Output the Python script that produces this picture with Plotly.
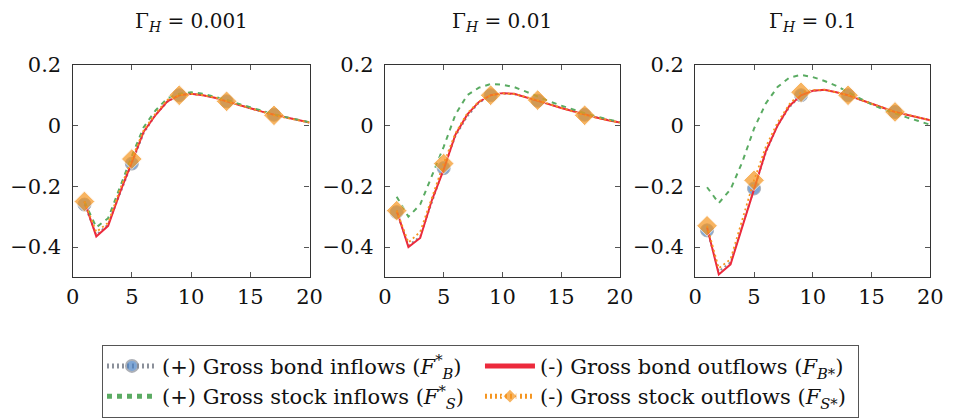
import plotly.graph_objects as go

periods = list(range(1, 21))
gammas = ["0.001", "0.01", "0.1"]

# Panel 1: Gamma_H = 0.001
bond_in_1 = [-0.26, -0.36, -0.325, -0.225, -0.125, -0.025, 0.035, 0.078, 0.10, 0.104, 0.10, 0.092, 0.08, 0.068, 0.057, 0.046, 0.036, 0.027, 0.018, 0.01]
bond_out_1 = [-0.25, -0.365, -0.33, -0.22, -0.12, -0.02, 0.035, 0.08, 0.10, 0.105, 0.10, 0.092, 0.08, 0.068, 0.057, 0.046, 0.036, 0.027, 0.018, 0.01]
stock_in_1 = [-0.25, -0.335, -0.305, -0.2, -0.1, -0.005, 0.05, 0.09, 0.105, 0.11, 0.105, 0.095, 0.085, 0.072, 0.06, 0.048, 0.037, 0.028, 0.019, 0.011]
stock_out_1 = [-0.25, -0.35, -0.32, -0.21, -0.11, -0.015, 0.04, 0.085, 0.10, 0.105, 0.10, 0.093, 0.08, 0.068, 0.057, 0.046, 0.034, 0.026, 0.018, 0.01]

# Panel 2: Gamma_H = 0.01
bond_in_2 = [-0.285, -0.395, -0.365, -0.25, -0.14, -0.035, 0.03, 0.075, 0.10, 0.106, 0.104, 0.094, 0.082, 0.07, 0.058, 0.047, 0.036, 0.027, 0.018, 0.01]
bond_out_2 = [-0.28, -0.40, -0.37, -0.245, -0.145, -0.03, 0.036, 0.078, 0.10, 0.107, 0.105, 0.094, 0.082, 0.07, 0.058, 0.047, 0.036, 0.027, 0.018, 0.01]
stock_in_2 = [-0.234, -0.30, -0.26, -0.165, -0.07, 0.036, 0.10, 0.125, 0.137, 0.135, 0.127, 0.112, 0.095, 0.08, 0.066, 0.053, 0.041, 0.03, 0.02, 0.011]
stock_out_2 = [-0.28, -0.385, -0.35, -0.235, -0.125, -0.025, 0.04, 0.08, 0.10, 0.106, 0.104, 0.094, 0.084, 0.071, 0.058, 0.047, 0.034, 0.026, 0.018, 0.01]

# Panel 3: Gamma_H = 0.1
bond_in_3 = [-0.345, -0.48, -0.45, -0.33, -0.207, -0.09, 0.0, 0.06, 0.10, 0.115, 0.117, 0.11, 0.10, 0.086, 0.072, 0.058, 0.045, 0.036, 0.027, 0.018]
bond_out_3 = [-0.335, -0.49, -0.457, -0.33, -0.21, -0.085, 0.0, 0.065, 0.10, 0.115, 0.118, 0.11, 0.10, 0.086, 0.072, 0.058, 0.045, 0.036, 0.027, 0.018]
stock_in_3 = [-0.203, -0.255, -0.21, -0.12, -0.01, 0.073, 0.127, 0.158, 0.167, 0.16, 0.147, 0.131, 0.11, 0.09, 0.07, 0.054, 0.04, 0.027, 0.015, 0.003]
stock_out_3 = [-0.33, -0.47, -0.44, -0.31, -0.18, -0.07, 0.01, 0.07, 0.11, 0.118, 0.118, 0.11, 0.10, 0.086, 0.072, 0.058, 0.045, 0.036, 0.027, 0.018]

panels = [
    (bond_in_1, bond_out_1, stock_in_1, stock_out_1),
    (bond_in_2, bond_out_2, stock_in_2, stock_out_2),
    (bond_in_3, bond_out_3, stock_in_3, stock_out_3),
]

series_names = [
    "(+) Gross bond inflows (<i>F</i><sup>*</sup><sub><i>B</i></sub>)",
    "(-) Gross bond outflows (<i>F</i><sub><i>B</i>*</sub>)",
    "(+) Gross stock inflows (<i>F</i><sup>*</sup><sub><i>S</i></sub>)",
    "(-) Gross stock outflows (<i>F</i><sub><i>S</i>*</sub>)",
]

xticks = [0, 5, 10, 15, 20]
yticks = [-0.4, -0.2, 0, 0.2]
yticktext = ["\u22120.4", "\u22120.2", "0", "0.2"]

W, H = 956, 418
FONT = "DejaVu Serif"
x_domains = [(67, 309), (386, 626), (703, 943)]
y_top, y_bot = 55, 276

marker_every = [1 if (i % 4 == 0) else 0 for i in range(len(periods))]

fig = go.Figure()
for p, (b_in, b_out, s_in, s_out) in enumerate(panels):
    xa = "x" if p == 0 else f"x{p+1}"
    ya = "y" if p == 0 else f"y{p+1}"
    show = p == 0
    fig.add_trace(go.Scatter(
        x=periods, y=b_in, name=series_names[0], mode="lines+markers",
        line=dict(color="#8a8f99", width=1.8, dash="2px,3px"),
        marker=dict(symbol="circle", size=[s * 13 for s in marker_every], color="#4a82c6"),
        xaxis=xa, yaxis=ya, showlegend=show, legendgroup="bi"))
    fig.add_trace(go.Scatter(
        x=periods, y=b_out, name=series_names[1], mode="lines",
        line=dict(color="#ec2a3c", width=2),
        xaxis=xa, yaxis=ya, showlegend=show, legendgroup="bo"))
    fig.add_trace(go.Scatter(
        x=periods, y=s_in, name=series_names[2], mode="lines",
        line=dict(color="#5aab62", width=2, dash="5px,5px"),
        xaxis=xa, yaxis=ya, showlegend=show, legendgroup="si"))
    fig.add_trace(go.Scatter(
        x=periods, y=s_out, name=series_names[3], mode="lines+markers",
        line=dict(color="#f5951f", width=1.8, dash="2px,3px"),
        marker=dict(symbol="diamond", size=[s * 16 for s in marker_every], color="#f5951f"),
        xaxis=xa, yaxis=ya, showlegend=show, legendgroup="so"))

axis_common = dict(
    showgrid=False, zeroline=False, showline=True, linecolor="#333333", linewidth=1.3,
    mirror="ticks", ticks="inside", ticklen=5, tickcolor="#555555", tickwidth=1,
    tickfont=dict(family=FONT, size=21, color="#111111"),
)

layout = dict(
    width=W, height=H, margin=dict(l=0, r=0, t=0, b=0),
    paper_bgcolor="white", plot_bgcolor="white",
    font=dict(family=FONT, size=21, color="#111111"),
    legend=dict(
        orientation="h", x=97 / W, y=1 - 346 / H, xanchor="left", yanchor="top",
        entrywidth=313, entrywidthmode="pixels", itemsizing="constant", itemwidth=50,
        bordercolor="#555555", borderwidth=1, bgcolor="white",
        font=dict(family=FONT, size=21, color="#111111"),
        tracegroupgap=0,
    ),
)
annotations = []
for p in range(3):
    sx = "xaxis" if p == 0 else f"xaxis{p+1}"
    sy = "yaxis" if p == 0 else f"yaxis{p+1}"
    a, b = x_domains[p]
    layout[sx] = dict(axis_common, domain=[a / W, b / W], range=[0, 20],
                      tickvals=xticks, ticklabelstandoff=0,
                      anchor="y" if p == 0 else f"y{p+1}")
    layout[sy] = dict(axis_common, domain=[1 - y_bot / H, 1 - y_top / H], range=[-0.5, 0.2],
                      tickvals=yticks, ticktext=yticktext, ticklabelstandoff=6,
                      anchor="x" if p == 0 else f"x{p+1}")
    annotations.append(dict(
        x=(a + b) / 2 / W, y=1 - 10 / H, xref="paper", yref="paper",
        text=f"\u0393<sub><i>H</i></sub> = {gammas[p]}", showarrow=False,
        xanchor="center", yanchor="middle",
        font=dict(family=FONT, size=20, color="#111111")))
layout["annotations"] = annotations
fig.update_layout(**layout)

fig.write_html("out.html")
